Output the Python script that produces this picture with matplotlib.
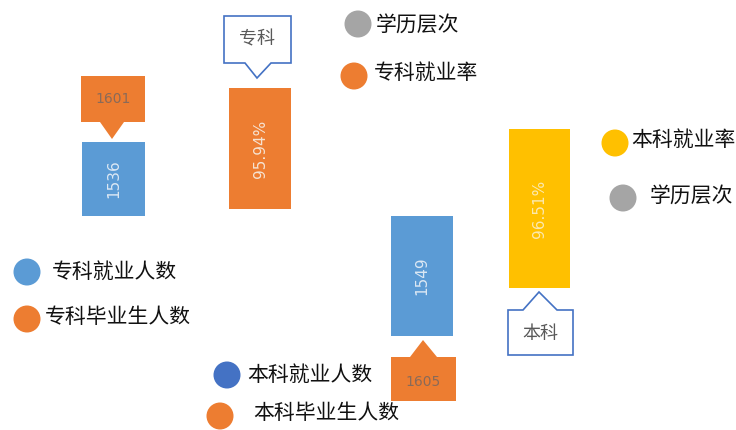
import matplotlib.pyplot as plt
from matplotlib.patches import Rectangle, Polygon, Circle

plt.rcParams['font.family'] = ['Noto Sans CJK SC', 'DejaVu Sans']

# data
levels = ["专科", "本科"]
employed = [1536, 1549]
graduates = [1601, 1605]
rates = [95.94, 96.51]
legend_labels = ["学历层次", "专科就业率", "本科就业率", "学历层次",
                 "专科就业人数", "专科毕业生人数", "本科就业人数", "本科毕业生人数"]

# colours
blue = "#5B9BD5"
orange = "#ED7D31"
yellow = "#FFC000"
gray = "#A5A5A5"
dblue = "#4472C4"

fig = plt.figure(figsize=(7.36, 4.30), dpi=100)
ax = fig.add_axes([0, 0, 1, 1])
ax.set_xlim(0, 736)
ax.set_ylim(430, 0)
ax.axis("off")

# layout (pixel boxes): x0, y0, x1, y1
emp_bars = [(82, 142, 145, 216), (391, 216, 453, 336)]
rate_bars = [(229, 88, 291, 209), (509, 129, 570, 288)]
rate_colors = [orange, yellow]


def vbar(box, color, text, tcolor):
    x0, y0, x1, y1 = box
    ax.add_patch(Rectangle((x0, y0), x1 - x0, y1 - y0, color=color, lw=0))
    ax.text((x0 + x1) / 2, (y0 + y1) / 2, text, rotation=90, ha="center",
            va="center", color=tcolor, fontsize=11, family="DejaVu Sans")


for box, v in zip(emp_bars, employed):
    vbar(box, blue, str(v), "#DCE8F4")
for box, r, c in zip(rate_bars, rates, rate_colors):
    vbar(box, c, f"{r:.2f}%", "#F6E3D2" if c == orange else "#FBE9B0")

# orange callouts for graduates
# 专科: box above, arrow down
x0, y0, x1, y1 = 81, 76, 145, 122
pts = [(x0, y0), (x1, y0), (x1, y1), (124, y1), (112, 139), (100, y1), (x0, y1)]
ax.add_patch(Polygon(pts, closed=True, color=orange, lw=0))
ax.text((x0 + x1) / 2, (y0 + y1) / 2, str(graduates[0]), ha="center",
        va="center", color="#8A6A58", fontsize=10, family="DejaVu Sans")

# 本科: box below, arrow up
x0, y0, x1, y1 = 391, 357, 456, 401
pts = [(x0, y0), (410, y0), (423, 340), (437, y0), (x1, y0), (x1, y1), (x0, y1)]
ax.add_patch(Polygon(pts, closed=True, color=orange, lw=0))
ax.text((x0 + x1) / 2, (y0 + y1) / 2 + 3, str(graduates[1]), ha="center",
        va="center", color="#8A6A58", fontsize=10, family="DejaVu Sans")

# white level callouts
x0, y0, x1, y1 = 224, 16, 291, 63
pts = [(x0, y0), (x1, y0), (x1, y1), (271, y1), (257, 78), (245, y1), (x0, y1)]
ax.add_patch(Polygon(pts, closed=True, facecolor="white", edgecolor=dblue, lw=1.2))
ax.text((x0 + x1) / 2, (y0 + y1) / 2, levels[0], ha="center", va="center",
        color="#595959", fontsize=13)

x0, y0, x1, y1 = 508, 310, 573, 355
pts = [(x0, y0), (523, y0), (539, 292), (557, y0), (x1, y0), (x1, y1), (x0, y1)]
ax.add_patch(Polygon(pts, closed=True, facecolor="white", edgecolor=dblue, lw=1.2))
ax.text((x0 + x1) / 2, (y0 + y1) / 2 + 2, levels[1], ha="center", va="center",
        color="#595959", fontsize=13)

# scattered legend items: circle centre, colour, text x, text y
legend_pos = [(358, 24, gray, 376, 25), (354, 76, orange, 374, 73),
              (615, 143, yellow, 631, 140), (623, 198, gray, 650, 196),
              (27, 272, blue, 52, 272), (27, 319, orange, 45, 317),
              (227, 375, dblue, 247, 375), (220, 416, orange, 253, 413)]
for (cx, cy, c, tx, ty), lab in zip(legend_pos, legend_labels):
    ax.add_patch(Circle((cx, cy), 13.5, color=c, lw=0))
    ax.text(tx, ty, lab, ha="left", va="center", color="#111111", fontsize=15)

fig.savefig("out.png", dpi=100)
